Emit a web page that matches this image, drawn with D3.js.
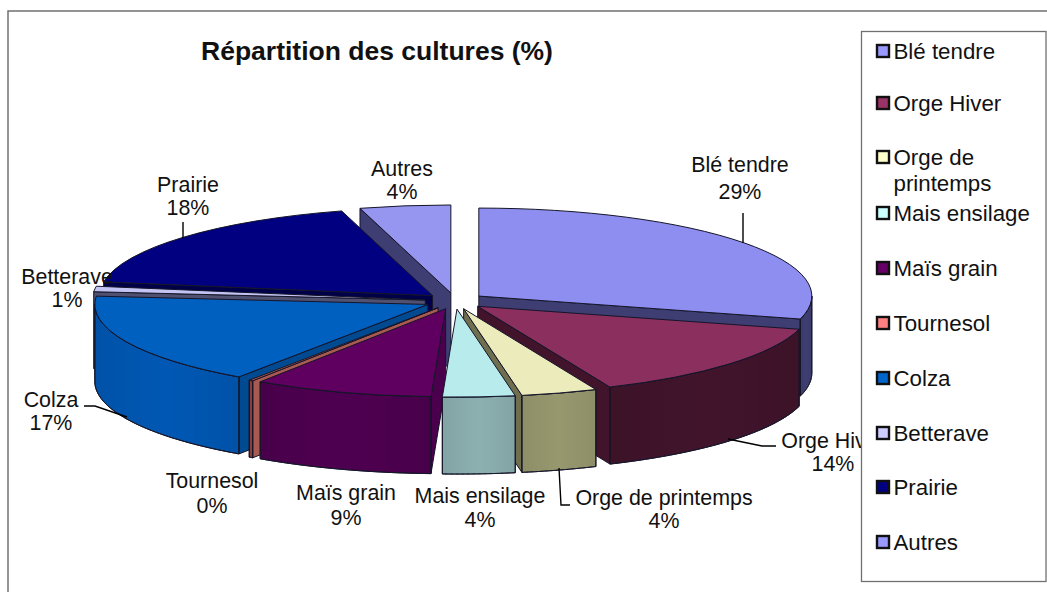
<!DOCTYPE html>
<html><head><meta charset="utf-8">
<script src="https://cdn.jsdelivr.net/npm/d3@7"></script>
<style>html,body{margin:0;padding:0;background:#fff}svg{display:block}text{font-family:"Liberation Sans",Arial,sans-serif;fill:#111}</style>
</head><body><svg id="c" width="1047" height="592"></svg>
<script>
const categories = ["Blé tendre","Orge Hiver","Orge de printemps","Mais ensilage","Maïs grain","Tournesol","Colza","Betterave","Prairie","Autres"];
const shares = [29.2,14.3,3.7,3.5,8.7,0.2,16.9,1,18.1,4.4];
const topColors = ["#8e8ef0","#8a2f5e","#ebebbb","#b8ecec","#5f0060","#a85a50","#0060c0","#c4c4f4","#000080","#9696f0"];
const sideColors = ["#3e3e72","#41142b","#98986f","#8cb0b0","#4e0050","#8a4038","#0058b4","#606080","#000048","#3e3e72"];
const cutColors = ["#3e3e72","#41142b","#6f6f50","#8aabab","#4a004c","#a85a50","#004a92","#505070","#000048","#3e3e72"];
const legendColors = ["#9999ff","#993366","#ffffcc","#ccffff","#660066","#ff8080","#0066cc","#ccccff","#000080","#9999ff"];
const percentLabels = ["29%","14%","4%","4%","9%","0%","17%","1%","18%","4%"];

const svg = d3.select("#c");
// gentle horizontal shading for the curved walls
const sheen=svg.append("defs").append("linearGradient").attr("id","sheen");
[[0,0.07],[0.5,0],[1,0.07]].forEach(([o,a])=>sheen.append("stop").attr("offset",o).attr("stop-color","#000").attr("stop-opacity",a));

// frame: only the top and left edges fall inside the picture
svg.append("path").attr("d",d3.line()([[1047,11],[8,11],[8,592]])).attr("fill","none").attr("stroke","#707070").attr("stroke-width",1.5);

svg.append("text").attr("x",377).attr("y",51).attr("dy",".35em").attr("text-anchor","middle")
  .attr("font-size",26.5).attr("font-weight","bold").text("Répartition des cultures (%)");

// pie geometry
const cx=455, cy=301, rx=333, ry=88, depth=77, explode=30;
const k=ry/rx;
const pie=d3.pie().sort(null).startAngle(0).endAngle(2*Math.PI)(shares);
const arcGen=d3.arc().innerRadius(0).outerRadius(rx);
const line=d3.line();
const slices=pie.map((p,i)=>{
  const mid=(p.startAngle+p.endAngle)/2;
  return {i,a0:p.startAngle,a1:p.endAngle,mid,
    ax:cx+explode*Math.sin(mid), ay:cy-explode*0.27*Math.cos(mid), p};
});
const pt=(s,a,dz=0)=>[s.ax+rx*Math.sin(a), s.ay-ry*Math.cos(a)+dz];
const drawOrder=slices.slice().sort((a,b)=>Math.cos(b.mid)-Math.cos(a.mid));
const g=svg.append("g").attr("stroke","#15152a").attr("stroke-width",1).attr("stroke-linejoin","round");
drawOrder.forEach(s=>{
  const sl=g.append("g");
  const wall=a=>{
    const e=pt(s,a);
    return line([[s.ax,s.ay],e,[e[0],e[1]+depth],[s.ax,s.ay+depth]])+"Z";
  };
  if(Math.sin(s.a0)<0) sl.append("path").attr("d",wall(s.a0)).attr("fill",cutColors[s.i]);
  if(Math.sin(s.a1)>0) sl.append("path").attr("d",wall(s.a1)).attr("fill",cutColors[s.i]);
  const lo=Math.max(s.a0,Math.PI/2), hi=Math.min(s.a1,3*Math.PI/2);
  if(hi>lo){
    const as=d3.range(0,61).map(j=>lo+(hi-lo)*j/60);
    const pts=as.map(a=>pt(s,a)).concat(as.slice().reverse().map(a=>pt(s,a,depth)));
    const d=line(pts)+"Z";
    sl.append("path").attr("d",d).attr("fill",sideColors[s.i]);
    sl.append("path").attr("d",d).attr("fill","url(#sheen)");
  }
  sl.append("path").attr("d",arcGen(s.p))
    .attr("transform",`translate(${s.ax},${s.ay}) scale(1,${k})`)
    .attr("vector-effect","non-scaling-stroke").attr("fill",topColors[s.i]);
});

// labels
const labelPos=[[740,165,192],[833,441,464],[664,498,521],[480,496,520],[346,493,518],[212,481,506],[51,400,423],[67,277,300],[188,185,208],[402,169,192]];
categories.forEach((c,i)=>{
  const [x,y1,y2]=labelPos[i];
  svg.append("text").attr("x",x).attr("y",y1).attr("dy",".35em").attr("text-anchor","middle").attr("font-size",21.4).text(c);
  svg.append("text").attr("x",x).attr("y",y2).attr("dy",".35em").attr("text-anchor","middle").attr("font-size",21.4).text(percentLabels[i]);
});
// leader lines
[[[743,213],[743,243]],[[183,222],[183,238]],[[728,439],[762,446],[776,446]],[[559,468],[561,505],[570,505]],[[84,406],[95,406],[127,417]]]
 .forEach(l=>svg.append("path").attr("d",line(l)).attr("fill","none").attr("stroke","#000").attr("stroke-width",1.4));

// legend
svg.append("rect").attr("x",861.5).attr("y",31.5).attr("width",184.5).attr("height",550).attr("fill","#fff").attr("stroke","#707070").attr("stroke-width",1.3);
const legendY=[51,103,157,213,268,323,378,433,487,542];
const legendLines=[["Blé tendre"],["Orge Hiver"],["Orge de","printemps"],["Mais ensilage"],["Maïs grain"],["Tournesol"],["Colza"],["Betterave"],["Prairie"],["Autres"]];
legendLines.forEach((ls,i)=>{
  svg.append("rect").attr("x",877).attr("y",legendY[i]-6).attr("width",12).attr("height",12)
    .attr("fill",legendColors[i]).attr("stroke","#111").attr("stroke-width",2.4);
  ls.forEach((t,j)=>svg.append("text").attr("x",893.5).attr("y",legendY[i]+j*26.5).attr("dy",".35em").attr("font-size",22.3).text(t));
});
</script></body></html>
